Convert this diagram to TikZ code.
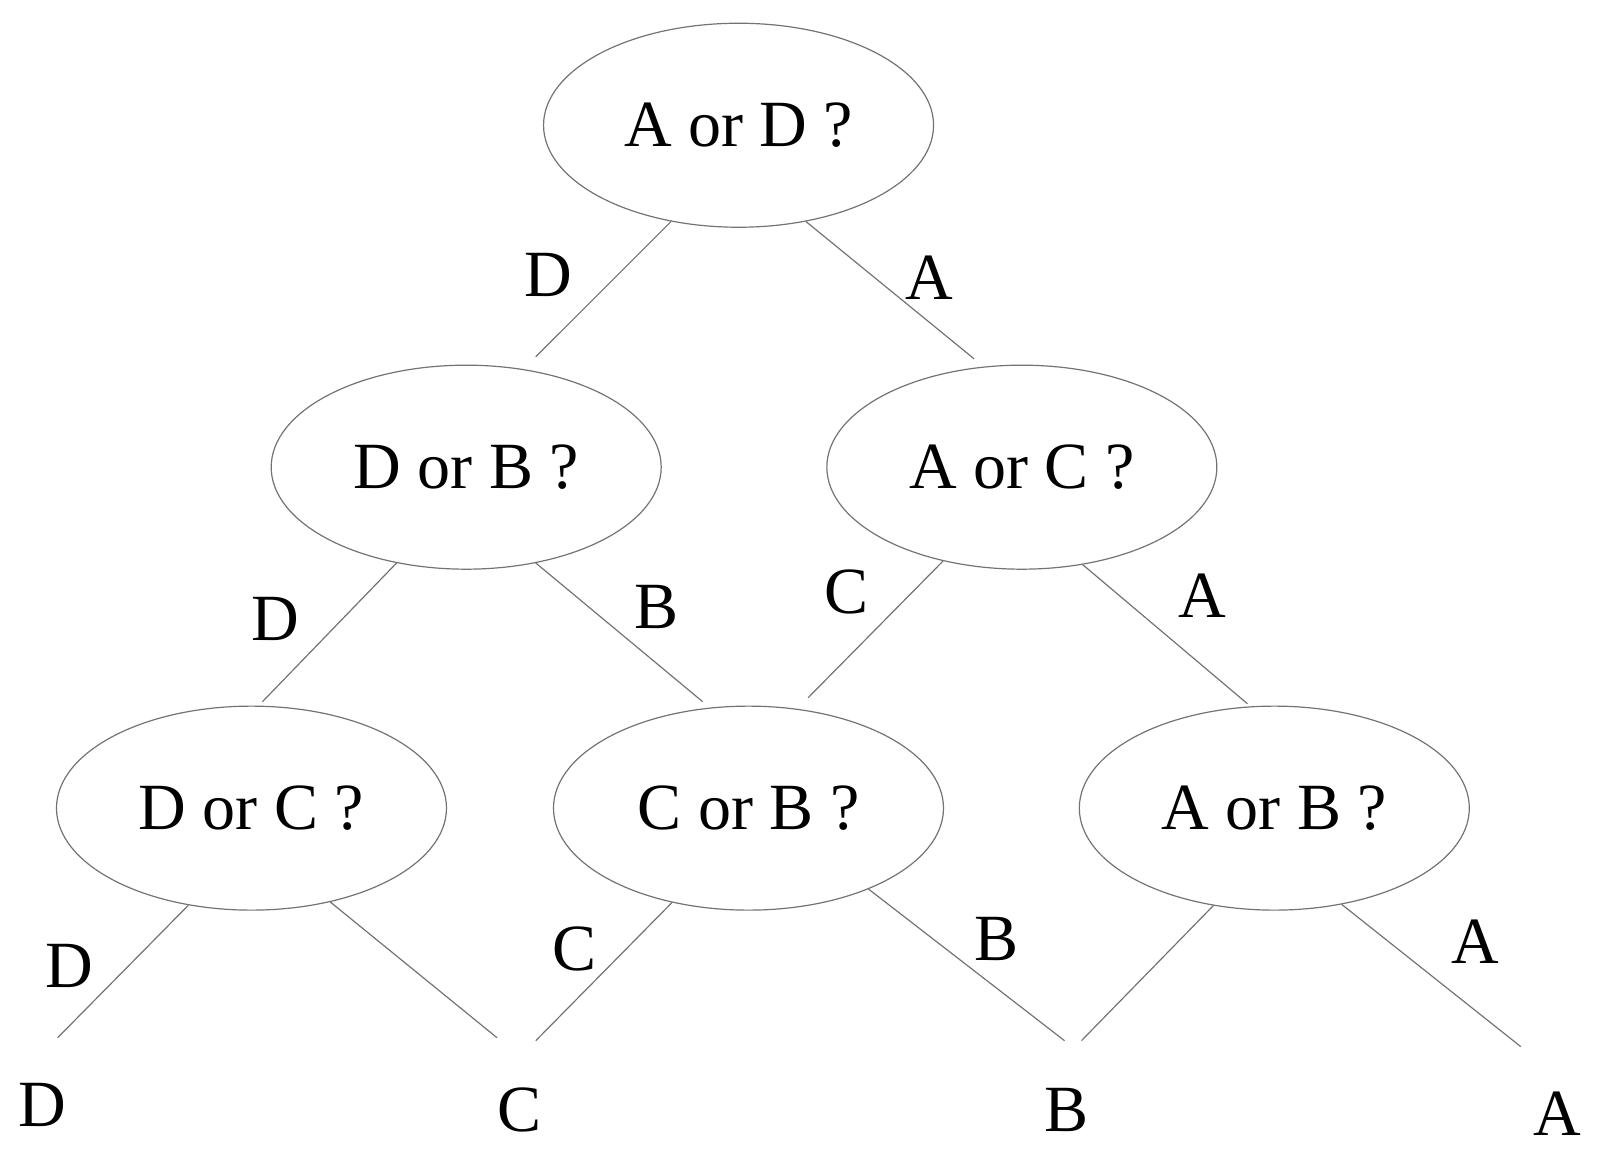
\documentclass[tikz,border=0pt]{standalone}
\usepackage{fontspec}
\setmainfont{Liberation Serif}
\usetikzlibrary{shapes.geometric}
\begin{document}
\begin{tikzpicture}[x=0.5pt,y=-0.5pt,
  qnode/.style={ellipse,draw=black!55,line width=0.6pt,minimum width=195pt,minimum height=102pt,inner sep=0pt,font=\fontsize{33}{36}\selectfont},
  lbl/.style={font=\fontsize{33}{36}\selectfont,inner sep=0pt},
  edge/.style={draw=black!55,line width=0.6pt}]
\useasboundingbox (0,0) rectangle (1610,1165);
\begin{scope}[scale=0.994]
% question nodes
\node[qnode] (root) at (743,126) {A or D ?};
\node[qnode] (dorb) at (469,470) {D or B ?};
\node[qnode] (aorc) at (1028,470) {A or C ?};
\node[qnode] (dorc) at (253,813) {D or C ?};
\node[qnode] (corb) at (753,813) {C or B ?};
\node[qnode] (aorb) at (1282,813) {A or B ?};
% line ends
\coordinate (t1) at (539,359);
\coordinate (t2) at (980,361);
\coordinate (t3) at (264,706);
\coordinate (t4) at (707,706);
\coordinate (t5) at (813,702);
\coordinate (t6) at (1255,708);
\coordinate (t7) at (58,1044);
\coordinate (t8) at (500,1044);
\coordinate (t9) at (539,1047);
\coordinate (t10) at (1071,1047);
\coordinate (t11) at (1088,1047);
\coordinate (t12) at (1530,1053);
% connectors
\draw[edge] (root.235) -- (t1);
\draw[edge] (root.305) -- (t2);
\draw[edge] (dorb.234) -- (t3);
\draw[edge] (dorb.306) -- (t4);
\draw[edge] (aorc.230) -- (t5);
\draw[edge] (aorc.302) -- (t6);
\draw[edge] (dorc.237) -- (t7);
\draw[edge] (dorc.310) -- (t8);
\draw[edge] (corb.231) -- (t9);
\draw[edge] (corb.326) -- (t10);
\draw[edge] (aorb.238) -- (t11);
\draw[edge] (aorb.305) -- (t12);
% edge labels
\node[lbl] (l1) at (552,277) {D};
\node[lbl] (l2) at (935,279) {A};
\node[lbl] (l3) at (277,623) {D};
\node[lbl] (l4) at (660,611) {B};
\node[lbl] (l5) at (852,596) {C};
\node[lbl] (l6) at (1210,599) {A};
\node[lbl] (l7) at (70,972) {D};
\node[lbl] (l8) at (578,955) {C};
\node[lbl] (l9) at (1003,945) {B};
\node[lbl] (l10) at (1484,947) {A};
% leaves
\node[lbl] (leafD) at (43,1112) {D};
\node[lbl] (leafC) at (523,1117) {C};
\node[lbl] (leafB) at (1073,1117) {B};
\node[lbl] (leafA) at (1567,1120) {A};
\end{scope}
\end{tikzpicture}
\end{document}
